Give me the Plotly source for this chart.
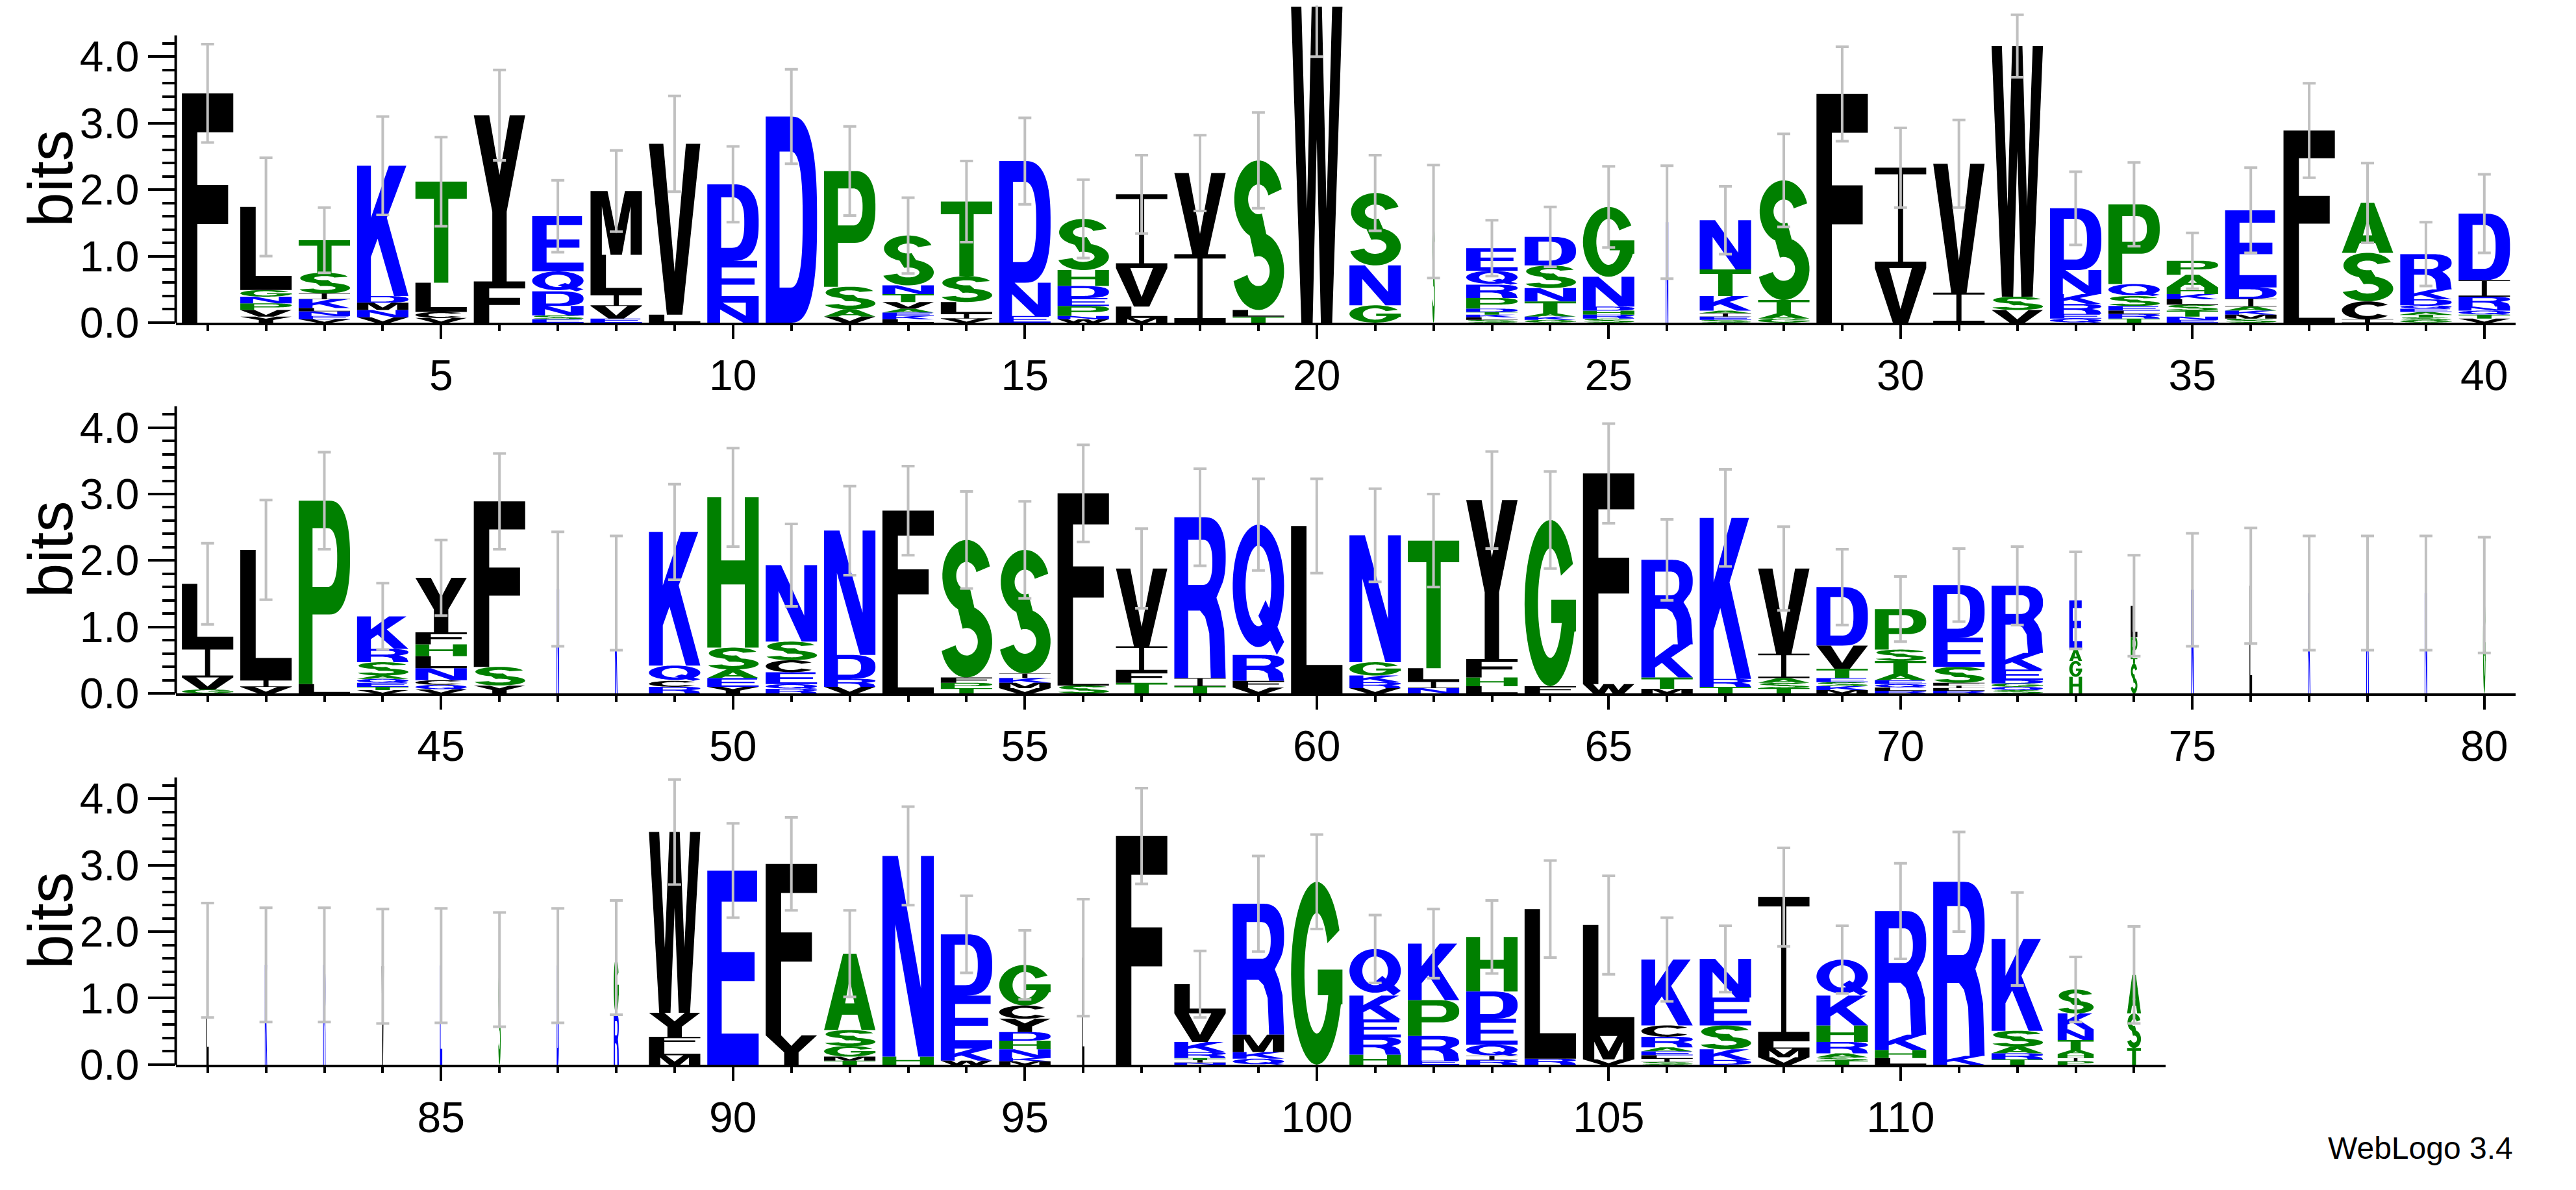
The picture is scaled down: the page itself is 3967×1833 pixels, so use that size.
import numpy as np
import plotly.graph_objects as go

# ---------------------------------------------------------------- data
# letters of each stack listed bottom -> top, heights in bits
ROW1_START = 1
ROW1_LETTERS = ["F", "YVPNGL", "VENLKIST", "VNMDK", "VCLT", "FY", "ESNDQE", "EVILM", "LV", "NED",
                "D", "VASP", "LKEAVTNS", "VILST", "END", "WNPEDHS", "MLVI", "IV", "TLS", "W",
                "GNS", "S", "SLKTDPRQE", "GKATNSD", "SRHDNG", "N", "SEIAKTN", "GATS", "F", "VI",
                "IV", "VSW", "QERKND", "TRLESQP", "ENTSLKHAP", "SMKAIDE", "LF", "ICSA", "GSTAEQDKR", "VTQNRID"]
ROW1_HEIGHTS = [[3.45], [.09, .10, .10, .10, .10, 1.25], [.05, .05, .07, .05, .13, .09, .31, .49],
                [.08, .11, .11, .10, 1.96], [.07, .09, .44, 1.52], [.62, 2.50], [.05, .06, .14, .22, .30, .83],
                [.06, .19, .17, .60, .96], [.12, 2.57], [.30, .63, 1.15],
                [3.10], [.09, .11, .34, 1.74], [.05, .05, .05, .06, .10, .12, .13, .75], [.06, .07, .18, .39, 1.12],
                [.10, .50, 1.83], [.05, .05, .15, .12, .18, .24, .77], [.07, .17, .58, 1.11], [1.03, 1.22],
                [.09, .10, 2.25], [4.75],
                [.26, .60, 1.09], [1.52], [.04, .04, .04, .04, .05, .16, .20, .21, .34],
                [.04, .05, .05, .18, .20, .34, .43], [.06, .06, .06, .06, .45, 1.05], [1.51],
                [.04, .05, .05, .04, .22, .40, .74], [.06, .08, .20, 1.80], [3.44], [.82, 1.51],
                [.45, 1.94], [.19, .20, 3.77], [.06, .07, .15, .15, .36, .93], [.06, .07, .05, .07, .15, .18, 1.20],
                [.04, .05, .09, .09, .08, .08, .10, .19, .21], [.06, .06, .06, .06, .12, .17, 1.16], [.43, 2.46],
                [.05, .27, .73, .75], [.04, .04, .04, .04, .05, .05, .09, .15, .53], [.06, .06, .06, .06, .15, .25, 1.00]]
ROW1_WIDTHS = [1] * 21 + [.05] + [1] * 3 + [.05] + [1] * 14
ROW1_ERRORS = [.74, .74, .49, .74, .67, .68, .54, .61, .72, .57, .71, .67, .57, .61, .65, .59, .59, .57, .72, .75,
               .57, .85, .42, .45, .61, .85, .51, .70, .71, .60, .66, .47, .55, .63, .42, .64, .71, .60, .48, .59]

ROW2_START = 41
ROW2_LETTERS = ["GVIL", "VIL", "LP", "VTEQASRK", "VQCNLHFY", "YSF", "N", "K", "RCQK", "YEASH",
                "RQECSN", "VRDN", "LF", "TPFS", "VMKIS", "SLF", "TFIV", "TIR", "VFRQ", "L",
                "VRKGN", "NILT", "LHFY", "FG", "WF", "MTKR", "TRK", "TSAIV", "MKSETVD", "RLQEATSP",
                "RLIFSED", "SQGDEKR", "HGAE", "STPL", "N", "L", "K", "R", "N", "G"]
ROW2_HEIGHTS = [[.06, .18, .45, .96], [.10, .10, 1.96], [.14, 2.76], [.05, .05, .06, .06, .05, .20, .20, .49],
                [.06, .07, .07, .18, .18, .18, .18, .82], [.12, .28, 2.49], [1.57], [1.51], [.10, .09, .23, 2.01],
                [.10, .13, .13, .33, 2.26],
                [.07, .07, .18, .18, .28, 1.15], [.10, .12, .36, 1.87], [.54, 2.21], [.08, .08, .08, 2.07],
                [.08, .08, .07, .07, 1.86], [.12, .14, 2.75], [.16, .17, .38, 1.17], [.11, .12, 2.42],
                [.09, .10, .39, 1.96], [2.52],
                [.08, .09, .10, .20, 1.91], [.08, .10, .20, 1.92], [.11, .13, .28, 2.39], [.11, 2.50], [.14, 3.17],
                [.07, .17, .50, 1.27], [.10, .12, 2.42], [.08, .08, .07, .37, 1.28], [.05, .06, .06, .06, .14, .35, .88],
                [.04, .05, .05, .06, .10, .19, .17, .61],
                [.04, .04, .04, .04, .24, .44, .79], [.05, .05, .05, .05, .16, .25, 1.01], [.25, .24, .18, .73],
                [.45, .08, .32, .47], [1.56], [1.62], [1.51], [1.51], [1.51], [1.48]]
ROW2_WIDTHS = [1] * 6 + [.05, .05] + [1] * 24 + [.25, .13] + [.05] * 6
ROW2_ERRORS = [.61, .75, .73, .50, .57, .72, .86, .86, .72, .74, .62, .67, .67, .73, .73, .73, .60, .73, .69, .71,
               .70, .70, .73, .73, .75, .61, .73, .63, .57, .49, .55, .59, .73, .76, .85, .87, .86, .86, .86, .87]

ROW3_START = 81
ROW3_LETTERS = ["L", "K", "R", "V", "E", "S", "D", "RG", "MLFYW", "E",
                "YF", "TMGSA", "HN", "WKED", "MKNHDYCG", "L", "F", "NITRKVL", "QKMR", "G",
                "HREKQ", "ERPK", "RIQEDH", "RL", "VML", "SILEARCK", "DKSEN", "VMLI", "TSARHKQ", "LHKR",
                "KR", "TRASK", "PIHATNKS", "TSA"]
ROW3_HEIGHTS = [[1.57], [1.50], [1.50], [1.48], [1.49], [1.43], [1.49], [.76, .85], [.14, .14, .14, .36, 2.72], [2.92],
                [.44, 2.58], [.06, .06, .16, .24, 1.15], [.12, 3.02], [.06, .18, .80, .92],
                [.05, .05, .13, .13, .13, .20, .20, .61], [1.61], [3.44], [.03, .04, .03, .09, .15, .43, .44],
                [.09, .10, .26, 1.97], [2.75],
                [.15, .26, .27, .36, .70], [.06, .37, .54, .85], [.07, .06, .17, .39, .41, .82], [.09, 2.25],
                [.08, .35, 1.67], [.04, .05, .05, .06, .06, .16, .17, .99], [.07, .16, .36, .42, .58],
                [.11, .13, .11, 2.17], [.06, .05, .06, .17, .25, .45, .54], [.10, .12, .23, 1.86],
                [.13, 2.62], [.08, .09, .10, .24, 1.38], [.05, .05, .06, .06, .15, .16, .24, .36], [.25, .52, .58]]
ROW3_WIDTHS = [.045] * 7 + [.10] + [1] * 7 + [.045] + [1] * 16 + [.70, .27]
ROW3_ERRORS = [.86, .86, .86, .86, .86, .86, .86, .86, .79, .71, .70, .65, .74, .58, .52, .88, .72, .50, .72, .71,
               .51, .52, .55, .73, .74, .63, .50, .74, .51, .72, .75, .70, .49, .73]

Y_AXIS_MAX = 4.32
YTICK_VALUES = [0, 1, 2, 3, 4]
YTICK_LABELS = ["0.0", "1.0", "2.0", "3.0", "4.0"]

# ---------------------------------------------------------------- style
COLOR_OF = {}
for ch in "RKDENQ":
    COLOR_OF[ch] = "#0000ff"
for ch in "SGHTAP":
    COLOR_OF[ch] = "#008000"
for ch in "YVMCLFIW":
    COLOR_OF[ch] = "#000000"
STACK_W = 0.88
FONT = "Liberation Sans, Arial, Helvetica, sans-serif"
W_PX, H_PX = 3967, 1833


# ---------------------------------------------------------------- glyph outlines (unit box)
def sarc(cx, cy, rx, ry, a0, a1, n=40, p=2.0):
    t = np.radians(np.linspace(a0, a1, n))
    c, s = np.cos(t), np.sin(t)
    e = 2.0 / p
    xs = cx + rx * np.sign(c) * np.abs(c) ** e
    ys = cy + ry * np.sign(s) * np.abs(s) ** e
    return list(zip(xs.tolist(), ys.tolist()))


def band(cx, cy, ro, ri, a0, a1, p=2.0, n=40):
    return sarc(cx, cy, ro[0], ro[1], a0, a1, n, p) + sarc(cx, cy, ri[0], ri[1], a1, a0, n, p)


def g_ring():
    outer = sarc(0.5, 0.5, 0.5, 0.5, 28, 340, 50)
    bar = [(1.0, 0.33), (1.0, 0.52), (0.52, 0.52), (0.52, 0.38), (0.724, 0.38)]
    inner = sarc(0.5, 0.5, 0.24, 0.33, -21, -330, 45)
    return outer + bar + inner


GLYPHS = {
    "A": [([(0, 0), (0.27, 0), (0.35, 0.2), (0.65, 0.2), (0.73, 0), (1, 0), (0.63, 1), (0.37, 1)], 1),
          ([(0.41, 0.35), (0.59, 0.35), (0.5, 0.68)], -1)],
    "C": [(band(0.5, 0.5, (0.5, 0.5), (0.25, 0.32), 38, 322), 1)],
    "D": [([(0, 0), (0.5, 0)] + sarc(0.5, 0.5, 0.5, 0.5, -90, 90, p=2.6) + [(0, 1)], 1),
          ([(0.27, 0.17), (0.48, 0.17)] + sarc(0.48, 0.5, 0.24, 0.33, -90, 90, p=2.6) + [(0.27, 0.83)], -1)],
    "E": [([(0, 0), (1, 0), (1, 0.16), (0.28, 0.16), (0.28, 0.43), (0.92, 0.43), (0.92, 0.58), (0.28, 0.58),
            (0.28, 0.84), (0.97, 0.84), (0.97, 1), (0, 1)], 1)],
    "F": [([(0, 0), (0.3, 0), (0.3, 0.43), (0.9, 0.43), (0.9, 0.6), (0.3, 0.6), (0.3, 0.83), (1, 0.83),
            (1, 1), (0, 1)], 1)],
    "G": [(g_ring(), 1)],
    "H": [([(0, 0), (0.27, 0), (0.27, 0.42), (0.73, 0.42), (0.73, 0), (1, 0), (1, 1), (0.73, 1), (0.73, 0.58),
            (0.27, 0.58), (0.27, 1), (0, 1)], 1)],
    "I": [([(0, 0), (1, 0), (1, 0.065), (0.55, 0.065), (0.55, 0.935), (1, 0.935), (1, 1), (0, 1), (0, 0.935),
            (0.45, 0.935), (0.45, 0.065), (0, 0.065)], 1)],
    "K": [([(0, 0), (0.27, 0), (0.27, 0.3), (0.4, 0.44), (0.72, 0), (1, 0), (0.58, 0.6), (0.96, 1), (0.62, 1),
            (0.27, 0.6), (0.27, 1), (0, 1)], 1)],
    "L": [([(0, 0), (1, 0), (1, 0.17), (0.3, 0.17), (0.3, 1), (0, 1)], 1)],
    "M": [([(0, 0), (0.22, 0), (0.22, 0.76), (0.39, 0), (0.61, 0), (0.78, 0.76), (0.78, 0), (1, 0), (1, 1),
            (0.67, 1), (0.5, 0.33), (0.33, 1), (0, 1)], 1)],
    "N": [([(0, 0), (0.25, 0), (0.25, 0.66), (0.7, 0), (1, 0), (1, 1), (0.75, 1), (0.75, 0.34), (0.3, 1),
            (0, 1)], 1)],
    "P": [([(0, 0), (0.27, 0), (0.27, 0.38), (0.6, 0.38)] + sarc(0.6, 0.69, 0.4, 0.31, -90, 90, p=2.4) + [(0, 1)], 1),
          ([(0.27, 0.53), (0.56, 0.53)] + sarc(0.56, 0.69, 0.19, 0.16, -90, 90, p=2.4) + [(0.27, 0.85)], -1)],
    "Q": [(sarc(0.5, 0.53, 0.5, 0.47, 0, 360, 72), 1),
          (sarc(0.5, 0.53, 0.25, 0.31, 0, 360, 60), -1),
          ([(0.5, 0.3), (0.64, 0.42), (1.0, 0.1), (0.86, 0.0)], 1)],
    "R": [([(0, 0), (0.27, 0), (0.27, 0.42), (0.5, 0.42), (0.6, 0.38), (0.68, 0.28), (0.71, 0), (1.0, 0),
            (0.97, 0.3), (0.9, 0.42), (0.82, 0.5)] + sarc(0.6, 0.75, 0.4, 0.25, -35, 90, p=2.4) + [(0, 1)], 1),
          ([(0.27, 0.58), (0.56, 0.58)] + sarc(0.56, 0.72, 0.18, 0.14, -90, 90, p=2.4) + [(0.27, 0.86)], -1)],
    "S": [(band(0.5, 0.74, (0.47, 0.26), (0.2, 0.1), 15, 290), 1),
          (band(0.5, 0.26, (0.5, 0.26), (0.22, 0.1), 195, 470), 1)],
    "T": [([(0.36, 0), (0.64, 0), (0.64, 0.83), (1, 0.83), (1, 1), (0, 1), (0, 0.83), (0.36, 0.83)], 1)],
    "V": [([(0.35, 0), (0.65, 0), (1, 1), (0.72, 1), (0.5, 0.25), (0.28, 1), (0, 1)], 1)],
    "W": [([(0.2, 0), (0.42, 0), (0.5, 0.58), (0.58, 0), (0.8, 0), (1, 1), (0.8, 1), (0.69, 0.36), (0.6, 1),
            (0.4, 1), (0.31, 0.36), (0.2, 1), (0, 1)], 1)],
    "Y": [([(0.36, 0), (0.64, 0), (0.64, 0.42), (1, 1), (0.7, 1), (0.5, 0.64), (0.3, 1), (0, 1), (0.36, 0.42)], 1)],
}


def oriented(ring, sign):
    a = 0.0
    for i in range(len(ring)):
        x1, y1 = ring[i]
        x2, y2 = ring[(i + 1) % len(ring)]
        a += x1 * y2 - x2 * y1
    if (a > 0) != (sign > 0):
        ring = ring[::-1]
    return ring


# ---------------------------------------------------------------- figure
rows = [
    (ROW1_START, ROW1_LETTERS, ROW1_HEIGHTS, ROW1_WIDTHS, ROW1_ERRORS),
    (ROW2_START, ROW2_LETTERS, ROW2_HEIGHTS, ROW2_WIDTHS, ROW2_ERRORS),
    (ROW3_START, ROW3_LETTERS, ROW3_HEIGHTS, ROW3_WIDTHS, ROW3_ERRORS),
]
baselines_px = [499.0, 1082.0, 1665.5]
px_per_bit = 104.5
y_top = 4.77
x_left_px = 262.6
px_per_pos = 89.9
pos1_px = 311.7

fig = go.Figure()
for r, (start, letters, heights, widths, errs) in enumerate(rows):
    n = r + 1
    sfx = "" if n == 1 else str(n)
    xs = {c: [] for c in set(COLOR_OF.values())}
    ys = {c: [] for c in set(COLOR_OF.values())}
    tops = []
    positions = []
    for i, (lets, hs, wf) in enumerate(zip(letters, heights, widths)):
        pos = start + i
        positions.append(pos)
        base = 0.0
        w = STACK_W * wf
        for ch, h in zip(lets, hs):
            col = COLOR_OF[ch]
            for ring, sign in GLYPHS[ch]:
                ring = oriented(ring, sign)
                for (u, v) in ring:
                    xs[col].append(pos + (u - 0.5) * w)
                    ys[col].append(base + v * h)
                xs[col].append(None)
                ys[col].append(None)
            base += h
        tops.append(base)
    for col in xs:
        fig.add_trace(go.Scatter(x=xs[col], y=ys[col], mode="lines", fill="toself", fillcolor=col,
                                 line=dict(width=0, color=col, simplify=False), hoverinfo="skip",
                                 xaxis="x" + sfx, yaxis="y" + sfx, showlegend=False))
    fig.add_trace(go.Scatter(x=positions, y=tops, mode="markers",
                             marker=dict(size=1, color="rgba(0,0,0,0)"),
                             error_y=dict(type="data", array=errs, symmetric=True, color="#c0c0c0",
                                          thickness=4, width=10),
                             hoverinfo="skip", xaxis="x" + sfx, yaxis="y" + sfx, showlegend=False))

    npos = len(letters)
    x0 = start - (pos1_px - x_left_px) / px_per_pos
    x1 = start + npos - 1 + 0.54
    dom_x = [x_left_px / W_PX, (x_left_px + (x1 - x0) * px_per_pos) / W_PX]
    ybot = 1 - baselines_px[r] / H_PX
    dom_y = [ybot, ybot + y_top * px_per_bit / H_PX]
    fig.layout["xaxis" + sfx] = dict(
        domain=dom_x, range=[x0, x1], anchor="y" + sfx, showline=True, linewidth=4, linecolor="black",
        ticks="outside", tickmode="linear", tick0=0, dtick=5, ticklen=21, tickwidth=4, tickcolor="black",
        minor=dict(ticks="outside", tick0=0, dtick=1, ticklen=9, tickwidth=4, tickcolor="black"),
        showgrid=False, zeroline=False, tickfont=dict(family=FONT, size=66, color="black"), fixedrange=True)
    fig.layout["yaxis" + sfx] = dict(
        domain=dom_y, range=[0, y_top], anchor="x" + sfx, showline=False,
        ticks="outside", tickmode="array", tickvals=YTICK_VALUES, ticktext=YTICK_LABELS,
        ticklen=42, tickwidth=4, tickcolor="black",
        minor=dict(ticks="outside", tickmode="array",
                   tickvals=[round(0.2 * k, 1) for k in range(1, 22) if k % 5],
                   ticklen=20, tickwidth=4, tickcolor="black"),
        showgrid=False, zeroline=False, tickfont=dict(family=FONT, size=66, color="black"), fixedrange=True)
    fig.add_shape(type="line", xref="x" + sfx + " domain", x0=0, x1=0, yref="y" + sfx, y0=0, y1=Y_AXIS_MAX,
                  line=dict(color="black", width=4))
    fig.add_annotation(text="bits", xref="paper", x=70 / W_PX, yref="y" + sfx, y=Y_AXIS_MAX / 2,
                       textangle=-90, showarrow=False, xanchor="center", yanchor="middle",
                       font=dict(family=FONT, size=96, color="black"))

fig.add_annotation(text="WebLogo 3.4", xref="paper", yref="paper", x=3864 / W_PX, y=1 - 1797 / H_PX,
                   xanchor="right", yanchor="middle", showarrow=False,
                   font=dict(family=FONT, size=48, color="black"))

fig.update_layout(width=W_PX, height=H_PX, margin=dict(l=0, r=0, t=0, b=0),
                  paper_bgcolor="white", plot_bgcolor="white", showlegend=False)
fig.write_html("out.html")
